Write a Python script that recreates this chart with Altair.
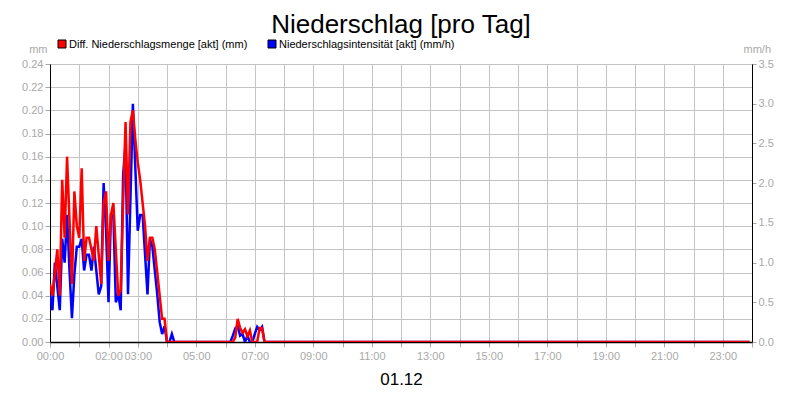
import altair as alt
import pandas as pd

# ---- data (5-minute steps over one day) ----
STEP_MIN = 5
N_STEPS = 288

series_names = ["Diff. Niederschlagsmenge [akt] (mm)", "Niederschlagsintensität [akt] (mm/h)"]
series_colors = ["#ff0000", "#0000ff"]

# Diff. Niederschlagsmenge (mm), first shower starting 00:00
red_start_1 = 0
red_vals_1 = [0.05, 0.04, 0.06, 0.08, 0.04, 0.14, 0.09, 0.16, 0.105, 0.05,
              0.13, 0.10, 0.09, 0.15, 0.07, 0.09, 0.09, 0.08, 0.07, 0.10,
              0.075, 0.05, 0.12, 0.13, 0.07, 0.11, 0.12, 0.08, 0.04, 0.045,
              0.12, 0.19, 0.11, 0.19, 0.20, 0.175, 0.155, 0.14, 0.12, 0.10,
              0.07, 0.09, 0.09, 0.08, 0.06, 0.04, 0.02, 0.02, 0.0]
# second shower (from step 75 = 06:15)
red_start_2 = 75
red_vals_2 = [0.0, 0.004, 0.02, 0.012, 0.008, 0.011, 0.005, 0.01, 0.0, 0.0,
              0.0, 0.012, 0.012, 0.0]

# Niederschlagsintensität (mm/h)
blue_start_1 = 0
blue_vals_1 = [0.6, 0.4, 1.0, 0.7, 0.4, 1.3, 1.0, 1.6, 0.9, 0.3,
               0.85, 1.2, 1.2, 1.3, 0.9, 1.1, 1.1, 0.9, 1.2, 0.9,
               0.6, 0.7, 2.0, 1.4, 0.5, 1.6, 1.6, 0.5, 0.6, 0.4,
               2.1, 2.5, 0.6, 1.8, 3.0, 2.2, 1.4, 1.6, 1.6, 1.1,
               0.6, 1.3, 1.2, 0.9, 0.6, 0.25, 0.1, 0.2, 0.0, 0.0,
               0.1, 0.0]
blue_start_2 = 74
blue_vals_2 = [0.0, 0.08, 0.17, 0.2, 0.08, 0.1, 0.0, 0.08, 0.0, 0.0,
               0.1, 0.19, 0.15, 0.19, 0.0]

x_label_hours = [0, 2, 3, 5, 7, 9, 11, 13, 15, 17, 19, 21, 23]
date_label = "01.12"
title_text = "Niederschlag [pro Tag]"


def full_day(parts):
    vals = [0.0] * N_STEPS
    for start, arr in parts:
        for i, v in enumerate(arr):
            vals[start + i] = v
    return vals


red = full_day([(red_start_1, red_vals_1), (red_start_2, red_vals_2)])
blue = full_day([(blue_start_1, blue_vals_1), (blue_start_2, blue_vals_2)])
hours = [k * STEP_MIN / 60 for k in range(N_STEPS)]

df = pd.DataFrame({"hour": hours, "mm": red, "mmh": blue})

FONT = "Liberation Sans"
GRAY = "#a8a8a8"
GRID = "#c4c4c4"

label_expr = ("indexof([" + ",".join(str(h) for h in x_label_hours) + "], datum.value) >= 0 ? "
              "((datum.value < 10 ? '0' : '') + datum.value + ':00') : ''")

x_enc = alt.X(
    "hour:Q",
    scale=alt.Scale(domain=[0, 24], nice=False, zero=False),
    axis=alt.Axis(
        values=list(range(25)), labelExpr=label_expr, grid=True, gridColor=GRID,
        domainColor="black", domainWidth=1.5, tickColor=GRAY, tickSize=5,
        labelColor=GRAY, labelFont=FONT, labelFontSize=11, labelPadding=3,
        labelOverlap=False, labelFlush=False,
        title=date_label, titleFont=FONT, titleFontSize=17, titleFontWeight="normal",
        titleColor="black", titleY=42, titleBaseline="alphabetic",
    ),
)

base = alt.Chart(df)

blue_line = base.mark_line(color=series_colors[1], strokeWidth=2.5, clip=True).encode(
    x=x_enc,
    y=alt.Y(
        "mmh:Q",
        scale=alt.Scale(domain=[0, 3.5], nice=False),
        axis=alt.Axis(
            orient="right", values=[i * 0.5 for i in range(8)], format=".1f", grid=False,
            domainColor="black", tickColor=GRAY, tickSize=4, labelColor=GRAY,
            labelFont=FONT, labelFontSize=11, labelPadding=2,
            title="mm/h", titleAngle=0, titleAlign="left", titleBaseline="alphabetic",
            titleX=-9, titleY=-12, titleColor=GRAY, titleFont=FONT, titleFontSize=11,
            titleFontWeight="normal",
        ),
    ),
)

red_line = base.mark_line(color=series_colors[0], strokeWidth=2.5, clip=True).encode(
    x=x_enc,
    y=alt.Y(
        "mm:Q",
        scale=alt.Scale(domain=[0, 0.24], nice=False),
        axis=alt.Axis(
            orient="left", values=[round(i * 0.02, 2) for i in range(13)], format=".2f",
            grid=True, gridColor=GRID,
            domainColor="black", tickColor=GRAY, tickSize=5, labelColor=GRAY,
            labelFont=FONT, labelFontSize=11, labelPadding=2,
            title="mm", titleAngle=0, titleAlign="right", titleBaseline="alphabetic",
            titleX=-3, titleY=-12, titleColor=GRAY, titleFont=FONT, titleFontSize=11,
            titleFontWeight="normal",
        ),
    ),
)

# title drawn as a text mark above the plot
title_layer = alt.Chart(pd.DataFrame({"t": [title_text]})).mark_text(
    align="center", baseline="alphabetic", font=FONT, fontSize=26, color="black"
).encode(x=alt.value(351), y=alt.value(-31), text="t:N")

# legend (drawn as marks above the plot)
leg_layers = []
for i, (name, col) in enumerate(zip(series_names, series_colors)):
    ld = pd.DataFrame({"label": [name]})
    sx = 12 + i * 210
    sq = alt.Chart(ld).mark_square(size=64, color=col, fill=col, stroke="black",
                                   strokeWidth=1, opacity=1).encode(
        x=alt.value(sx), y=alt.value(-20))
    tx = alt.Chart(ld).mark_text(align="left", baseline="middle", font=FONT,
                                 fontSize=11, color="black").encode(
        x=alt.value(sx + 7), y=alt.value(-19), text="label:N")
    leg_layers += [sq, tx]

chart = alt.layer(blue_line, red_line, title_layer, *leg_layers).resolve_scale(
    y="independent"
).properties(
    width=702,
    height=278,
    autosize=alt.AutoSizeParams(type="none"),
    padding={"left": 42, "top": 56, "right": 40, "bottom": 50},
    background="white",
).configure_view(stroke="black", strokeWidth=1)

chart.save("out.html", embed_options={"renderer": "svg", "actions": False})
